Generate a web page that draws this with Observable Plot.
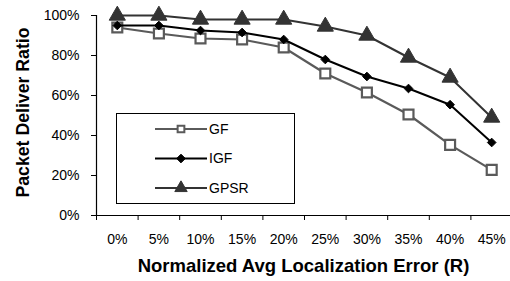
<!DOCTYPE html>
<html>
<head>
<meta charset="utf-8">
<script src="https://cdn.jsdelivr.net/npm/d3@7"></script>
<script src="https://cdn.jsdelivr.net/npm/@observablehq/plot@0.6"></script>
<style>
  html, body { margin: 0; padding: 0; background: #fff; overflow: hidden; }
  svg { display: block; }
</style>
</head>
<body>
<div id="chart"></div>
<script>
// Data
const errors = [0, 5, 10, 15, 20, 25, 30, 35, 40, 45];
const gf   = [94, 91, 88.5, 88, 84, 71, 61.5, 50.5, 35.3, 22.8];
const igf  = [95, 95, 92.5, 91.5, 88, 78, 69.5, 63.5, 55.4, 36.5];
const gpsr = [100, 100, 98, 98, 98, 94.5, 90, 79, 69, 49];
const seriesNames = ["GF", "IGF", "GPSR"];
const yTicks = [0, 20, 40, 60, 80, 100];

const styles = {
  GF:   {stroke: "#5a5a5a", fill: "white", symbol: "square", r: 5.6, legendR: 3.8, sw: 2.2},
  IGF:  {stroke: "#000000", fill: "#000000", symbol: "diamond2", r: 3.9, legendR: 3.9, sw: 2},
  GPSR: {stroke: "#333333", fill: "#333333", symbol: "triangle", r: 6, legendR: 4.6, sw: 2}
};

const values = {GF: gf, IGF: igf, GPSR: gpsr};
const data = seriesNames.flatMap(s => errors.map((e, i) => ({series: s, x: e, y: values[s][i]})));
const boundaries = errors.map(e => e - 2.5);

const font = "'Liberation Sans', Arial, sans-serif";

const marks = [
  Plot.ruleY([0], {stroke: "#000", strokeWidth: 1.2}),
  Plot.ruleX([-2.5], {y1: 0, y2: 100, stroke: "#000", strokeWidth: 1.2}),
  Plot.axisY({ticks: yTicks, tickSize: 5, tickPadding: 12, tickFormat: d => d + "%", label: null, fontSize: 14}),
  Plot.axisX({ticks: boundaries, tickSize: 5, tickFormat: () => "", label: null}),
  Plot.axisX({ticks: errors, tickSize: 0, tickPadding: 19, tickFormat: d => d + "%", label: null, fontSize: 14})
];

for (const s of seriesNames) {
  const st = styles[s];
  const d = data.filter(p => p.series === s);
  marks.push(Plot.line(d, {x: "x", y: "y", stroke: st.stroke, strokeWidth: st.sw}));
  marks.push(Plot.dot(d, {x: "x", y: "y", symbol: () => st.symbol, r: st.r, stroke: st.stroke,
    fill: st.fill, strokeWidth: s === "GF" ? 2.2 : 1}));
}

marks.push(Plot.text(["Normalized Avg Localization Error (R)"], {frameAnchor: "bottom", dy: 56,
  textAnchor: "middle", fontWeight: "bold", fontSize: 18.5, fill: "#000"}));
marks.push(Plot.text(["Packet Deliver Ratio"], {frameAnchor: "left", dx: -73, dy: -3, rotate: -90,
  textAnchor: "middle", fontWeight: "bold", fontSize: 17.7, fill: "#000"}));

const chart = Plot.plot({
  width: 510,
  height: 281,
  marginLeft: 96,
  marginRight: 0,
  marginTop: 15,
  marginBottom: 66,
  style: {fontFamily: font, fontSize: "14px", color: "#000", background: "#fff"},
  x: {type: "linear", domain: [-2.5, 47.5], range: [96, 512]},
  y: {domain: [0, 100]},
  symbol: {type: "identity"},
  marks
});

// Legend drawn inside the svg
const svg = d3.select(chart);
const lg = svg.append("g").attr("font-family", font).attr("font-size", 14).attr("text-anchor", "start");
lg.append("rect").attr("x", 116.5).attr("y", 113.5).attr("width", 178).attr("height", 90)
  .attr("fill", "white").attr("stroke", "#000").attr("stroke-width", 1);
seriesNames.forEach((s, i) => {
  const st = styles[s];
  const cy = 129 + i * 29.5;
  const g = lg.append("g");
  g.append("line").attr("x1", 155).attr("x2", 207).attr("y1", cy).attr("y2", cy)
    .attr("stroke", st.stroke).attr("stroke-width", st.sw);
  const symType = {square: d3.symbolSquare, diamond2: d3.symbolDiamond2, triangle: d3.symbolTriangle}[st.symbol];
  g.append("path").attr("d", d3.symbol(symType, Math.PI * st.legendR * st.legendR)())
    .attr("transform", `translate(181,${cy})`)
    .attr("fill", st.fill).attr("stroke", st.stroke).attr("stroke-width", s === "GF" ? 2 : 1);
  g.append("text").attr("x", 209).attr("y", cy).attr("dy", "0.35em").attr("fill", "#000")
    .attr("text-anchor", "start").text(s);
});

document.getElementById("chart").appendChild(chart);
</script>
</body>
</html>
